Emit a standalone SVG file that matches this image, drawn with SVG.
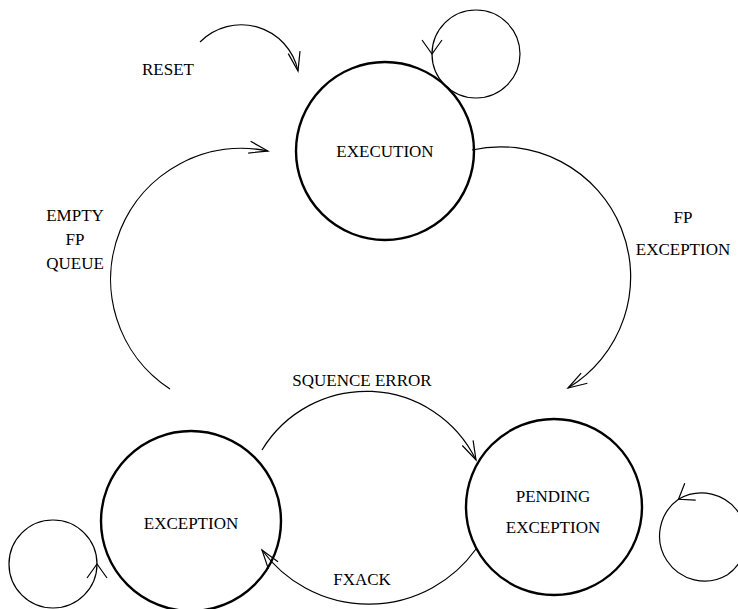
<svg xmlns="http://www.w3.org/2000/svg" width="738" height="609" viewBox="0 0 738 609">
<style>
.state{fill:none;stroke:#000;stroke-width:2.4}
.edge{fill:none;stroke:#000;stroke-width:1.2}
text{font-family:"Liberation Serif","Times New Roman",serif;font-size:17px;fill:#000;text-anchor:middle}
</style>
<defs>
<marker id="arr" markerUnits="userSpaceOnUse" orient="auto" markerWidth="24" markerHeight="20" refX="0" refY="0" viewBox="-22 -10 24 20" overflow="visible">
<path d="M-19,-6 L0,0 L-19,6" fill="none" stroke="#000" stroke-width="1.2"/>
</marker>
<marker id="loopArr" markerUnits="userSpaceOnUse" orient="auto" markerWidth="24" markerHeight="24" refX="0" refY="0" viewBox="-22 -12 24 24" overflow="visible">
<path d="M-14,-10 L0,0 L-14,10" fill="none" stroke="#000" stroke-width="1.2"/>
</marker>
</defs>
<g id="connectors">
<path id="reset" class="edge" d="M200,42 A58,58 0 0 1 298,71" marker-end="url(#arr)"/>
<path id="empty-fp-queue" class="edge" d="M170,389 A131,131 0 0 1 268,151" marker-end="url(#arr)"/>
<path id="fp-exception" class="edge" d="M472,150 A130,130 0 0 1 568,388" marker-end="url(#arr)"/>
<path id="squence-error" class="edge" d="M262,450 A122,122 0 0 1 476,460" marker-end="url(#arr)"/>
<path id="fxack" class="edge" d="M476,549 A132,132 0 0 1 262,550" marker-end="url(#arr)"/>
<path id="loop-execution" class="edge" d="M520,54 A44,44 0 0 0 432,54 A44,44 0 0 0 520,54" marker-mid="url(#loopArr)"/>
<path id="loop-pending" class="edge" d="M727.5,574.7 A45,45 0 0 0 678.5,499.3 A45,45 0 0 0 727.5,574.7" marker-mid="url(#loopArr)"/>
<path id="loop-exception" class="edge" d="M9,564 A44,44 0 0 0 97,564 A44,44 0 0 0 9,564" marker-mid="url(#loopArr)"/>
</g>
<g id="node-execution">
<circle class="state" cx="385" cy="151" r="89"/>
<text x="385" y="157">EXECUTION</text>
</g>
<g id="node-exception">
<circle class="state" cx="191" cy="521" r="90"/>
<text x="191" y="529">EXCEPTION</text>
</g>
<g id="node-pending">
<circle class="state" cx="554" cy="507" r="88"/>
<text x="553" y="502">PENDING</text>
<text x="553" y="533">EXCEPTION</text>
</g>
<g id="labels">
<text x="168" y="75">RESET</text>
<text x="75" y="221">EMPTY</text>
<text x="75" y="245">FP</text>
<text x="75" y="269">QUEUE</text>
<text x="683" y="223">FP</text>
<text x="683" y="255">EXCEPTION</text>
<text x="362" y="386">SQUENCE ERROR</text>
<text x="362" y="585">FXACK</text>
</g>
</svg>
